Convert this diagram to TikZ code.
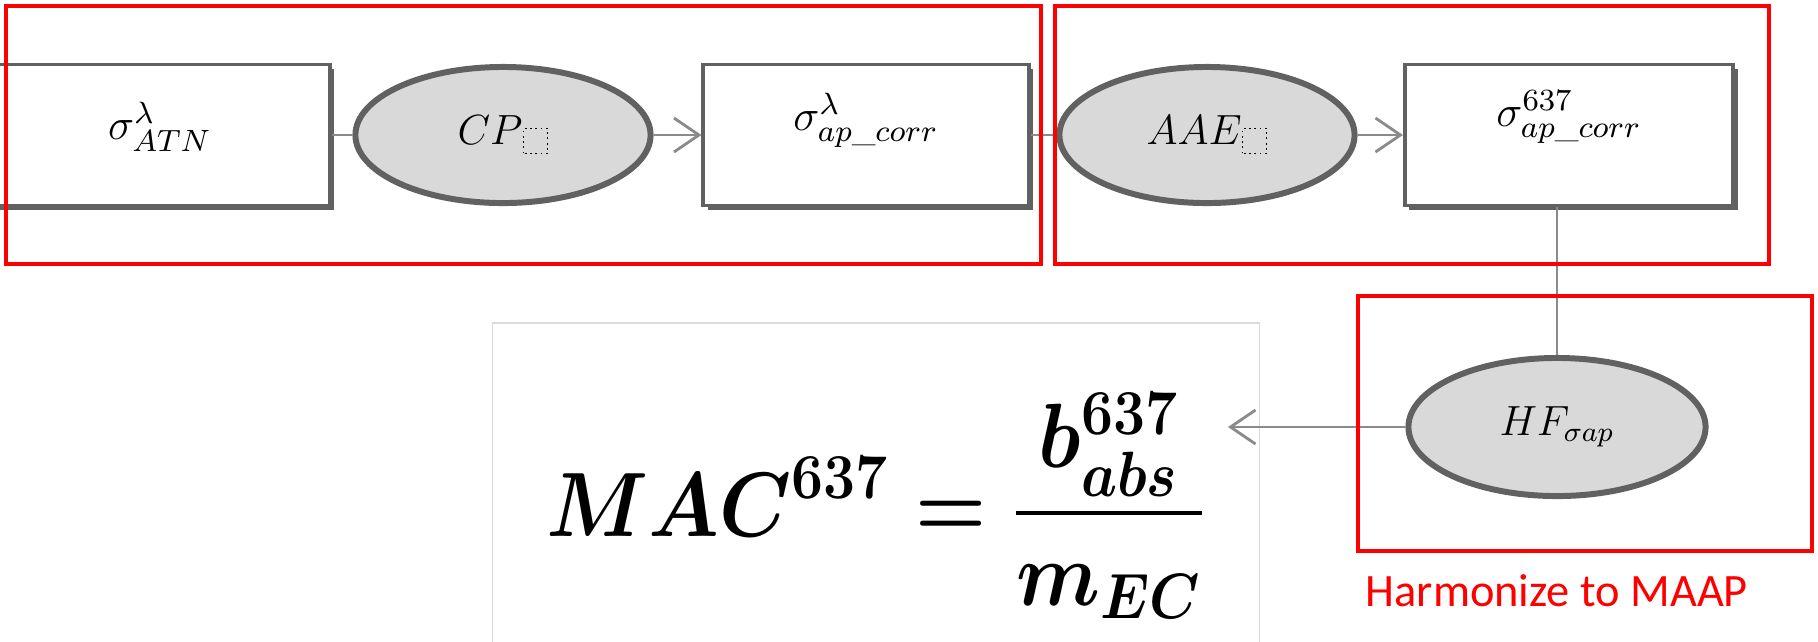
\documentclass[tikz,border=0pt]{standalone}
\usepackage{fix-cm}
\usepackage{amsmath}
\usepackage{fontspec}
\newfontfamily\calibri{Carlito}
\usetikzlibrary{arrows.meta, shadows, shapes.geometric}
\definecolor{boxgray}{HTML}{616161}
\definecolor{nodefill}{HTML}{D9D9D9}
\definecolor{linkgray}{HTML}{8A8A8A}
\definecolor{framegray}{HTML}{DADADA}
\newcommand{\nosym}{\tikz[baseline=0.09cm]\draw[black,densely dotted,line width=0.5pt] (0cm,0cm) rectangle (0.24cm,0.25cm);}
\tikzset{databox/.style={draw=boxgray, fill=white, line width=1.1pt, inner sep=0pt, minimum height=1.41cm,
                         drop shadow={shadow xshift=0.045cm, shadow yshift=-0.045cm, fill=boxgray, opacity=1}},
         stepnode/.style={ellipse, draw=boxgray, fill=nodefill, line width=1.7pt, inner sep=0pt,
                          minimum width=2.95cm, minimum height=1.36cm, font=\fontsize{12}{14}\selectfont},
         boxtext/.style={font=\fontsize{12.5}{14}\selectfont},
         link/.style={draw=linkgray, line width=0.8pt},
         arr/.style={link, -{Straight Barb[length=0.25cm, width=0.34cm]}},
         redframe/.style={draw=red, line width=1.2pt},
        }

\begin{document}
\begin{tikzpicture}[x=0.01cm, y=-0.01cm]
        \useasboundingbox (0,0) rectangle (1818,641);

        \node[databox, minimum width=3.39cm, label={[boxtext, yshift=0.08cm]center:$\sigma^{\lambda}_{ATN}$}](atn)at(160,135){};
        \node[stepnode](cp)at(503,135){$CP$\nosym};
        \node[databox, minimum width=3.25cm, label={[boxtext, yshift=0.15cm]center:$\sigma^{\lambda}_{ap\_corr}$}](corr)at(866,135){};
        \node[stepnode](aae)at(1207,135){$AAE$\nosym};
        \node[databox, minimum width=3.28cm, label={[boxtext, yshift=0.18cm]center:$\sigma^{637}_{ap\_corr}$}](corr637)at(1569,135){};
        \node[stepnode, minimum width=2.97cm, minimum height=1.38cm](hf)at(1557,427){$HF_{\sigma ap}$};

        \node[draw=framegray, line width=0.4pt, minimum width=7.66cm, minimum height=3.6cm](macframe)at(876,503){};
        \node[anchor=base, font=\fontsize{26}{30}\selectfont\mathversion{bold}](mac)at(876,536){\scalebox{0.89}[1]{$\displaystyle MAC^{637}=\frac{b^{637}_{abs}}{m_{EC}}$}};
        \coordinate(mactip)at(1228,427);

        \draw[link](atn.east)--(cp.west);
        \draw[arr](cp.east)--(corr.west);
        \draw[link](corr.east)--(aae.west);
        \draw[arr](aae.east)--(corr637.west);
        \draw[link](corr637.south -| hf.north)--(hf.north);
        \draw[arr](hf.west)--(mactip);

        \draw[redframe](6,6) rectangle (1041,264);
        \draw[redframe](1055,6) rectangle (1769,264);
        \draw[redframe](1358,296) rectangle (1812,551);
        \node[anchor=base west, text=red, inner sep=0pt, font=\calibri\fontsize{13.2}{15}\selectfont](maap)at(1365,606){Harmonize to MAAP};
    \end{tikzpicture}
\end{document}
